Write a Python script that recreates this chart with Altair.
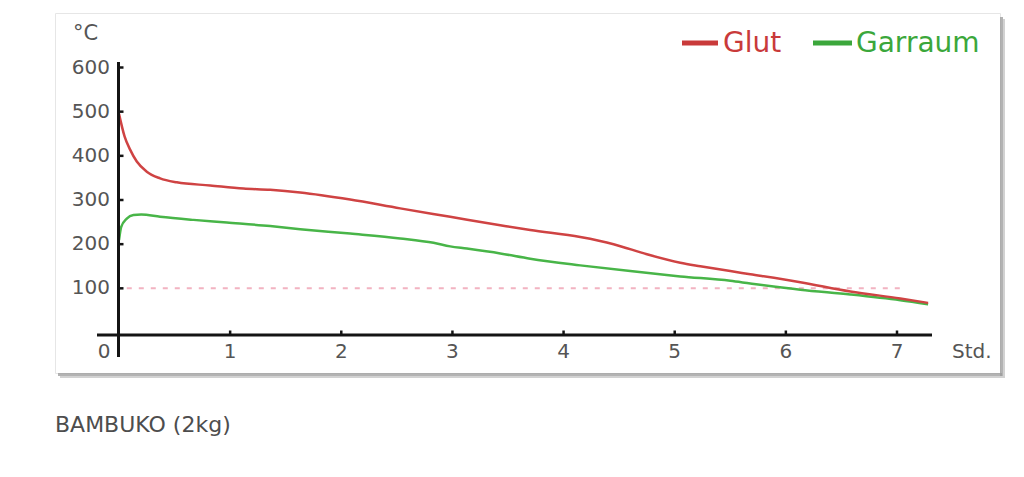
import altair as alt
import pandas as pd

# ---- data ----
series_names = ["Glut", "Garraum"]
series_colors = ["#cf4343", "#48b548"]
legend_text_colors = ["#c93a3a", "#3ba73b"]

hours_glut = [0, 0.05, 0.10, 0.16, 0.25, 0.37, 0.52, 0.82, 1.12, 1.36, 1.63, 2.08, 2.53,
              2.98, 3.43, 3.70, 4.15, 4.45, 4.75, 5.05, 5.23, 5.50, 5.68, 6.13, 6.58, 7.03, 7.28]
temp_glut = [495, 444, 414, 387, 364, 349, 340, 333, 326, 323, 317, 301, 281,
             262, 243, 232, 216, 200, 177, 158, 150, 139, 132, 114, 93, 77, 67]

hours_garraum = [0, 0.02, 0.07, 0.13, 0.20, 0.37, 0.67, 0.97, 1.36, 1.63, 2.08, 2.53, 2.83,
                 2.98, 3.13, 3.43, 3.70, 4.15, 4.60, 5.05, 5.50, 5.68, 6.13, 6.58, 7.03, 7.28]
temp_garraum = [209, 239, 258, 266, 267, 262, 255, 249, 241, 234, 224, 213, 203,
                195, 190, 179, 167, 152, 139, 127, 117, 111, 97, 86, 73, 64]

y_ticks = [100, 200, 300, 400, 500, 600]
x_ticks = [1, 2, 3, 4, 5, 6, 7]
threshold_value = [100]
threshold_start = [0.07]
threshold_end = [7.05]

y_unit = "°C"
x_unit = "Std."
caption = "BAMBUKO (2kg)"

FONT = "DejaVu Sans"
LABEL_COLOR = "#555555"
AXIS_COLOR = "#141414"

# ---- tables ----
df_glut = pd.DataFrame({"h": hours_glut, "t": temp_glut})
df_garraum = pd.DataFrame({"h": hours_garraum, "t": temp_garraum})
df_thr = pd.DataFrame({"start": threshold_start, "end": threshold_end, "y": threshold_value})
df_y = pd.DataFrame({"v": y_ticks, "label": [str(v) for v in y_ticks]})
df_x = pd.DataFrame({"v": x_ticks, "label": [str(v) for v in x_ticks]})

x_scale = alt.Scale(domain=[0, 7], range=[64, 842], nice=False, zero=False)
y_scale = alt.Scale(domain=[0, 600], range=[319.5, 54.5], nice=False, zero=False)


def X(field):
    return alt.X(field, scale=x_scale, axis=None)


def Y(field):
    return alt.Y(field, scale=y_scale, axis=None)


base_empty = alt.Chart(pd.DataFrame({"a": [0]}))

# card shadow
shadow_bottom = base_empty.mark_rule(color="#9a9a9a", strokeWidth=3, opacity=0.75).encode(
    x=alt.value(3), x2=alt.value(947), y=alt.value(361.5))
shadow_right = base_empty.mark_rule(color="#9a9a9a", strokeWidth=3, opacity=0.75).encode(
    x=alt.value(946.5), y=alt.value(4), y2=alt.value(363))
shadow_bottom2 = base_empty.mark_rule(color="#d2d2d2", strokeWidth=2).encode(
    x=alt.value(5), x2=alt.value(949), y=alt.value(364))
shadow_right2 = base_empty.mark_rule(color="#d2d2d2", strokeWidth=2).encode(
    x=alt.value(949), y=alt.value(6), y2=alt.value(365))

# threshold dashed line
thr = alt.Chart(df_thr).mark_rule(strokeDash=[5, 7], color="#f2b3c1", strokeWidth=2).encode(
    x=X("start:Q"), x2="end:Q", y=Y("y:Q"))

# axes drawn as crossing lines
y_axis_line = base_empty.mark_rule(color=AXIS_COLOR, strokeWidth=3).encode(
    x=alt.value(63.5), y=alt.value(49), y2=alt.value(344))
x_axis_line = base_empty.mark_rule(color=AXIS_COLOR, strokeWidth=3).encode(
    x=alt.value(42), x2=alt.value(877), y=alt.value(322))

y_tick_marks = alt.Chart(df_y).mark_rule(color=AXIS_COLOR, strokeWidth=2.5).encode(
    y=Y("v:Q"), x=alt.value(64), x2=alt.value(68.5))
x_tick_marks = alt.Chart(df_x).mark_rule(color=AXIS_COLOR, strokeWidth=2.5).encode(
    x=X("v:Q"), y=alt.value(317.5), y2=alt.value(322))

y_labels = alt.Chart(df_y).mark_text(align="right", baseline="middle", fontSize=20, font=FONT,
                                      color=LABEL_COLOR).encode(
    y=Y("v:Q"), x=alt.value(55), text="label:N")
x_labels = alt.Chart(df_x).mark_text(align="center", baseline="middle", fontSize=20, font=FONT,
                                      color=LABEL_COLOR).encode(
    x=X("v:Q"), y=alt.value(339), text="label:N")
zero_label = base_empty.mark_text(align="center", baseline="middle", fontSize=20, font=FONT,
                                  color=LABEL_COLOR, text="0").encode(
    x=alt.value(49), y=alt.value(339))
y_unit_text = base_empty.mark_text(align="left", baseline="middle", fontSize=21, font=FONT,
                                   color=LABEL_COLOR, text=y_unit).encode(
    x=alt.value(18), y=alt.value(21))
x_unit_text = base_empty.mark_text(align="left", baseline="middle", fontSize=20, font=FONT,
                                   color=LABEL_COLOR, text=x_unit).encode(
    x=alt.value(897), y=alt.value(339))

# curves
line_garraum = alt.Chart(df_garraum).mark_line(
    interpolate="monotone", strokeWidth=2.5, color=series_colors[1]).encode(
    x=X("h:Q"), y=Y("t:Q"))
line_glut = alt.Chart(df_glut).mark_line(
    interpolate="monotone", strokeWidth=2.5, color=series_colors[0]).encode(
    x=X("h:Q"), y=Y("t:Q"))

# manual legend
leg_glut_sym = base_empty.mark_rule(color=legend_text_colors[0], strokeWidth=5).encode(
    x=alt.value(627), x2=alt.value(663), y=alt.value(30))
leg_glut_txt = base_empty.mark_text(align="left", baseline="middle", fontSize=28, font=FONT,
                                    color=legend_text_colors[0], text=series_names[0]).encode(
    x=alt.value(668), y=alt.value(31))
leg_gar_sym = base_empty.mark_rule(color=legend_text_colors[1], strokeWidth=5).encode(
    x=alt.value(758), x2=alt.value(797), y=alt.value(30))
leg_gar_txt = base_empty.mark_text(align="left", baseline="middle", fontSize=28, font=FONT,
                                   color=legend_text_colors[1], text=series_names[1]).encode(
    x=alt.value(801), y=alt.value(31))

caption_text = base_empty.mark_text(align="left", baseline="middle", fontSize=22, font=FONT,
                                    color="#4d4d4d", text=caption).encode(
    x=alt.value(0), y=alt.value(412))

chart = alt.layer(
    shadow_bottom2, shadow_right2, shadow_bottom, shadow_right,
    thr, line_garraum, line_glut,
    y_axis_line, x_axis_line, y_tick_marks, x_tick_marks,
    y_labels, x_labels, zero_label, y_unit_text, x_unit_text,
    leg_glut_sym, leg_glut_txt, leg_gar_sym, leg_gar_txt,
    caption_text,
).properties(
    width=945, height=360,
    autosize=alt.AutoSizeParams(type="none"),
    padding={"left": 47, "top": 5, "right": 12, "bottom": 90},
    background="white",
).configure_view(stroke="#e6e6e6", strokeWidth=1)

chart.save("out.html", embed_options={"renderer": "svg", "actions": False})
